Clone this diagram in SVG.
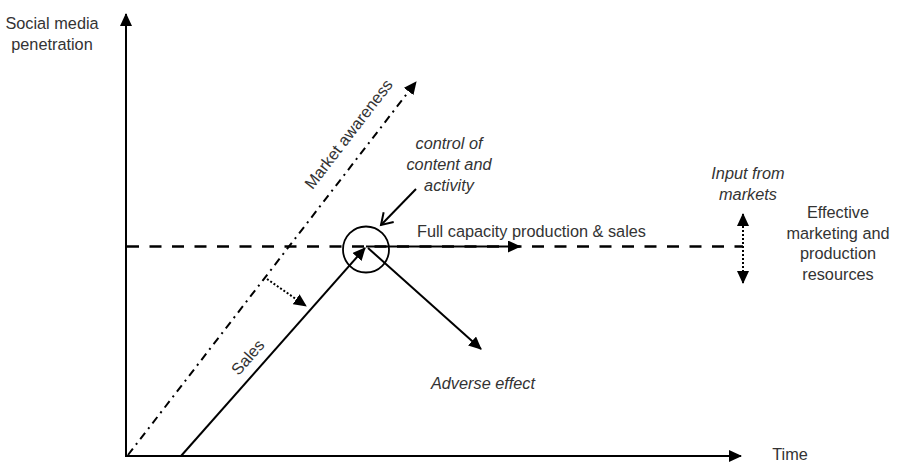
<svg xmlns="http://www.w3.org/2000/svg" width="898" height="463" viewBox="0 0 898 463">
  <style>
    .lbl { font-family: "Liberation Sans", Arial, sans-serif; font-size: 16.3px; fill: #333; }
    .it { font-style: italic; }
    .mid { text-anchor: middle; }
    .ln { fill: none; stroke: #000; stroke-width: 2; }
    .dash { fill: none; stroke: #000; stroke-width: 2.6; stroke-dasharray: 12 10.5; }
    .dashdot { fill: none; stroke: #000; stroke-width: 2; stroke-dasharray: 8 5 2 5; }
    .dot { fill: none; stroke: #000; stroke-width: 2; stroke-dasharray: 2 2; }
  </style>
  <defs>
    <marker id="head" markerUnits="userSpaceOnUse" markerWidth="14" markerHeight="12" refX="12" refY="6" orient="auto-start-reverse">
      <path d="M0,0 L13,6 L0,12 z" fill="#000"/>
    </marker>
    <marker id="open" markerUnits="userSpaceOnUse" markerWidth="16" markerHeight="16" refX="13" refY="8" orient="auto">
      <path d="M2,1 L13,8 L2,15" fill="none" stroke="#000" stroke-width="2"/>
    </marker>
  </defs>

  <rect width="898" height="463" fill="#fff"/>

  <g id="connectors">
    <!-- axes -->
    <line class="ln" x1="126" y1="457" x2="126" y2="14" marker-end="url(#head)"/>
    <line class="ln" x1="125" y1="456" x2="741" y2="456" marker-end="url(#head)"/>
    <!-- capacity level -->
    <line class="dash" x1="127" y1="246.5" x2="743" y2="246.5"/>
    <!-- market awareness trend -->
    <line class="dashdot" x1="128" y1="455" x2="416" y2="82" marker-end="url(#head)"/>
    <!-- sales trend -->
    <line class="ln" x1="181" y1="456" x2="365" y2="248" marker-end="url(#head)"/>
    <!-- awareness feeding sales -->
    <line class="dot" x1="267" y1="279" x2="306" y2="306" marker-end="url(#head)"/>
    <!-- full capacity production & sales -->
    <line class="ln" x1="366" y1="246.5" x2="520" y2="246.5" marker-end="url(#head)"/>
    <!-- adverse effect -->
    <line class="ln" x1="368" y1="248" x2="481" y2="349" marker-end="url(#head)"/>
    <!-- control of content and activity -->
    <line class="ln" x1="416" y1="189" x2="381" y2="225" marker-end="url(#open)"/>
    <!-- input from markets -->
    <line class="dot" x1="743" y1="214" x2="743" y2="283" marker-start="url(#head)" marker-end="url(#head)"/>
  </g>

  <g id="saturation-point">
    <circle cx="366" cy="249.5" r="23" fill="none" stroke="#000" stroke-width="1.8"/>
  </g>

  <g id="y-axis-label">
    <text class="lbl mid" x="52" y="29">Social media</text>
    <text class="lbl mid" x="52" y="50">penetration</text>
  </g>
  <g id="x-axis-label">
    <text class="lbl mid" x="790" y="460">Time</text>
  </g>
  <g id="market-awareness">
    <text class="lbl mid" transform="translate(353,137.5) rotate(-52.4)">Market awareness</text>
  </g>
  <g id="sales">
    <text class="lbl mid" transform="translate(252,361) rotate(-48.5)">Sales</text>
  </g>
  <g id="control">
    <text class="lbl it mid" x="449" y="149">control of</text>
    <text class="lbl it mid" x="449" y="170">content and</text>
    <text class="lbl it mid" x="449" y="191">activity</text>
  </g>
  <g id="full-capacity">
    <text class="lbl" x="417" y="237">Full capacity production &amp; sales</text>
  </g>
  <g id="input-markets">
    <text class="lbl it mid" x="748" y="179">Input from</text>
    <text class="lbl it mid" x="748" y="200">markets</text>
  </g>
  <g id="resources">
    <text class="lbl mid" x="838" y="218">Effective</text>
    <text class="lbl mid" x="838" y="238.5">marketing and</text>
    <text class="lbl mid" x="838" y="259">production</text>
    <text class="lbl mid" x="838" y="280">resources</text>
  </g>
  <g id="adverse-effect">
    <text class="lbl it mid" x="483" y="389">Adverse effect</text>
  </g>
</svg>
